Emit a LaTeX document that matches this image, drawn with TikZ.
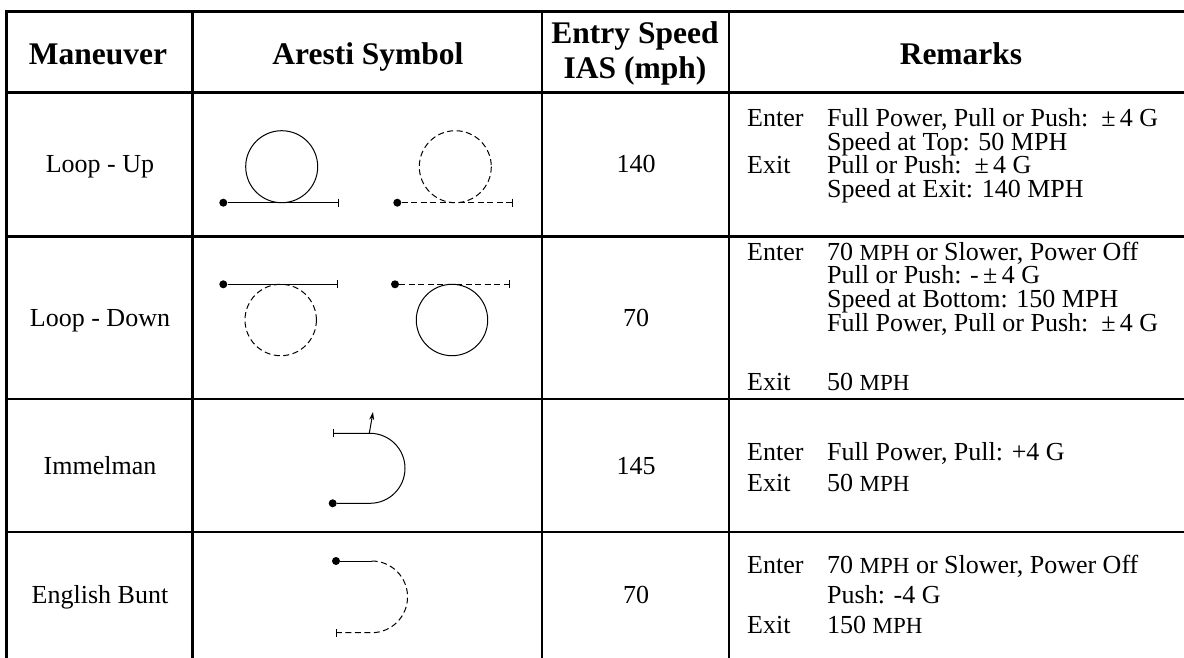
\documentclass[tikz,border=0pt]{standalone}
\usepackage{fontspec}
\setmainfont{Liberation Serif}
\usetikzlibrary{arrows.meta}
\newcommand\mphs{{\fontsize{23}{23.5}\selectfont MPH}}
\tikzset{
  grid/.style={line width=2.7pt},
  hd/.style={font=\fontsize{31.5}{35}\selectfont\bfseries, inner sep=0pt, anchor=base},
  cell/.style={font=\fontsize{26}{23.5}\selectfont, inner sep=0pt, anchor=base},
  rmk/.style={font=\fontsize{26}{23.5}\selectfont, inner sep=0pt, anchor=base west,
    text height=16pt, text depth=4pt},
  sym/.style={line width=1pt},
  dsh/.style={sym, dash pattern=on 6pt off 3.5pt},
  start/.style={circle, fill=black, inner sep=0pt, minimum size=8pt},
  stop/.style={-{Bar[width=8pt,line width=1pt]}}
}
\begin{document}
\begin{tikzpicture}[x=1pt,y=-1pt]
\useasboundingbox (0,0) rectangle (1184,658);
% table rules
\draw[grid] (1184,11.7) -- (6.7,11.7) -- (6.7,658);
\draw[grid] (6.7,92.3) -- (1184,92.3);
\draw[grid] (6.7,236.7) -- (1184,236.7);
\draw[grid] (6.7,399) -- (1184,399);
\draw[grid] (6.7,532) -- (1184,532);
\draw[grid] (192.7,11.7) -- (192.7,658);
\draw[grid] (542,11.7) -- (542,658);
\draw[grid] (729,11.7) -- (729,658);
% header
\node[hd] (hman) at (98,65) {Maneuver};
\node[hd] (hsym) at (368,65) {Aresti Symbol};
\node[hd] (hspd) at (635,44) {Entry Speed};
\node[hd] (hias) at (635,79) {IAS (mph)};
\node[hd] (hrem) at (961,65) {Remarks};
% maneuver names and speeds
\node[cell] (m1) at (100,173) {Loop - Up};
\node[cell] (m2) at (100,326.5) {Loop - Down};
\node[cell] (m3) at (100,474) {Immelman};
\node[cell] (m4) at (100,603) {English Bunt};
\node[cell] (s1) at (636,173) {140};
\node[cell] (s2) at (636,326.5) {70};
\node[cell] (s3) at (636,474) {145};
\node[cell] (s4) at (636,603) {70};
% loop up
\node[start] (lu1) at (223.3,202.7) {};
\coordinate (lu1e) at (339.3,202.7);
\draw[sym,stop] (lu1) -- (lu1e);
\draw[sym] (281.7,166.7) circle (36);
\node[start] (lu2) at (397.3,202.7) {};
\coordinate (lu2e) at (513.3,202.7);
\draw[dsh,stop] (lu2) -- (lu2e);
\draw[dsh] (455.3,166.7) circle (36);
% loop down
\node[start] (ld1) at (223.3,284.3) {};
\coordinate (ld1e) at (338.3,284.3);
\draw[sym,stop] (ld1) -- (ld1e);
\draw[dsh] (280.7,320) circle (35.7);
\node[start] (ld2) at (395,284.3) {};
\coordinate (ld2e) at (510,284.3);
\draw[dsh,stop] (ld2) -- (ld2e);
\draw[sym] (452,320) circle (35.7);
% immelman
\node[start] (im) at (332.7,503.3) {};
\coordinate (ime) at (332.7,433.3);
\draw[sym,stop] (im) -- (370,503.3) arc[start angle=90,end angle=-90,radius=35] -- (ime);
\draw[sym,-{Stealth[length=8pt,width=5pt]}] (369.3,433.3) -- (373,412);
% english bunt
\node[start] (eb) at (336,561) {};
\coordinate (ebe) at (336,632.7);
\draw[sym] (eb) -- (371.7,561);
\draw[dsh,stop] (371.7,561) arc[start angle=-90,end angle=90,radius=35.85] -- (ebe);
% remarks
\node[rmk] (r1a) at (747,126.7) {Enter};
\node[rmk] (r1b) at (827,126.7) {Full Power, Pull or Push:\ \ ±\,4 G};
\node[rmk] (r1c) at (827,150.2) {Speed at Top: 50 MPH};
\node[rmk] (r1d) at (747,173.7) {Exit};
\node[rmk] (r1e) at (827,173.7) {Pull or Push:\ \ ±\,4 G};
\node[rmk] (r1f) at (827,197.2) {Speed at Exit: 140 MPH};
\node[rmk] (r2a) at (747,260) {Enter};
\node[rmk] (r2b) at (827,260) {70 \mphs{} or Slower, Power Off};
\node[rmk] (r2c) at (827,283.5) {Pull or Push: -\,±\,4 G};
\node[rmk] (r2d) at (827,307) {Speed at Bottom: 150 MPH};
\node[rmk] (r2e) at (827,331) {Full Power, Pull or Push:\ \ ±\,4 G};
\node[rmk] (r2f) at (747,390) {Exit};
\node[rmk] (r2g) at (827,390) {50 \mphs};
\node[rmk] (r3a) at (747,460) {Enter};
\node[rmk] (r3b) at (827,460) {Full Power, Pull: +4 G};
\node[rmk] (r3c) at (747,491.5) {Exit};
\node[rmk] (r3d) at (827,491.5) {50 \mphs};
\node[rmk] (r4a) at (747,573) {Enter};
\node[rmk] (r4b) at (827,573) {70 \mphs{} or Slower, Power Off};
\node[rmk] (r4c) at (827,603) {Push: -4 G};
\node[rmk] (r4d) at (747,633) {Exit};
\node[rmk] (r4e) at (827,633) {150 \mphs};
\end{tikzpicture}
\end{document}
